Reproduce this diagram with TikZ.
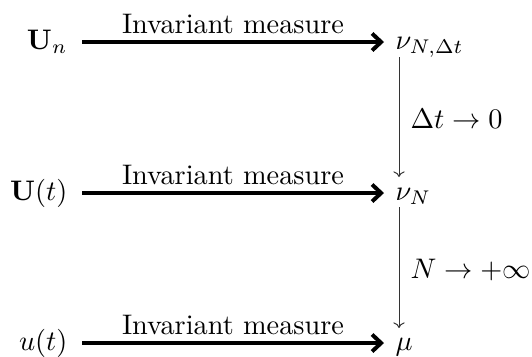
\documentclass[tikz,border=0pt]{standalone}
\usepackage{amsmath}
\usetikzlibrary{arrows.meta}
\begin{document}
\begin{tikzpicture}[x=0.3534pt,y=-0.3534pt,
  harrow/.style={-{Straight Barb[length=3.2pt,width=6pt,line width=1.4pt]},line width=1.4pt},
  varrow/.style={-{To[length=2pt,width=4pt]},line width=0.35pt,draw=black!80},
  lbl/.style={inner sep=0pt,anchor=base},
  obj/.style={inner sep=0pt}]
\useasboundingbox (0,0) rectangle (532,356);
\node[obj,anchor=base east] (a1) at (68,49) {$\mathbf{U}_n$};
\node[obj,anchor=base east] (a2) at (68,200) {$\mathbf{U}(t)$};
\node[obj,anchor=base east] (a3) at (68,350) {$u(t)$};
\node[obj,anchor=base west] (b1) at (395,49) {$\nu_{N,\Delta t}$};
\node[obj,anchor=base west] (b2) at (395,200) {$\nu_N$};
\node[obj,anchor=base west] (b3) at (395,350) {$\mu$};
\coordinate (s1) at (82,42); \coordinate (e1) at (384,42);
\coordinate (s2) at (82,193); \coordinate (e2) at (384,193);
\coordinate (s3) at (82,343); \coordinate (e3) at (384,343);
\draw[harrow] (s1) -- (e1) node[lbl,midway,yshift=3pt] (l1) {Invariant measure};
\draw[harrow] (s2) -- (e2) node[lbl,midway,yshift=3pt] (l2) {Invariant measure};
\draw[harrow] (s3) -- (e3) node[lbl,midway,yshift=3pt] (l3) {Invariant measure};
\coordinate (v1s) at (399,57); \coordinate (v1e) at (399,177);
\coordinate (v2s) at (399,207); \coordinate (v2e) at (399,328);
\draw[varrow] (v1s) -- (v1e);
\draw[varrow] (v2s) -- (v2e);
\node[lbl,anchor=base west] (d1) at (410,128) {$\Delta t \to 0$};
\node[lbl,anchor=base west] (d2) at (410,278) {$N \to +\infty$};
\end{tikzpicture}
\end{document}
